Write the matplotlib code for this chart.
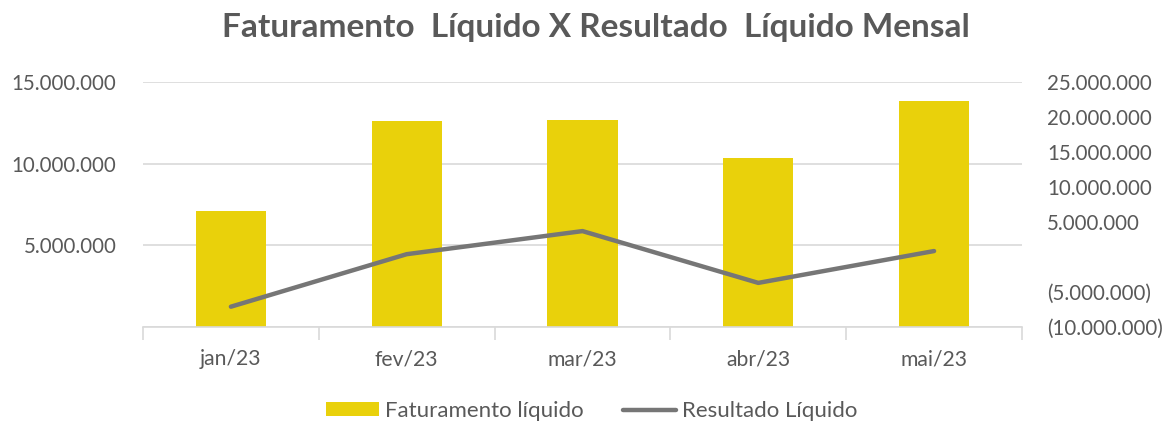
import matplotlib
matplotlib.use("Agg")
import matplotlib.pyplot as plt
from matplotlib.ticker import FuncFormatter, FixedLocator
from matplotlib.lines import Line2D
from matplotlib.patches import Patch

months = ["jan/23", "fev/23", "mar/23", "abr/23", "mai/23"]
faturamento = [7100000, 12600000, 12700000, 10350000, 13850000]
resultado = [-7100000, 400000, 3700000, -3700000, 850000]
left_ticks = [0, 5000000, 10000000, 15000000]
right_ticks = [-10000000, -5000000, 0, 5000000, 10000000, 15000000, 20000000, 25000000]

TXT = "#595959"
FONT = ["Lato", "DejaVu Sans"]
plt.rcParams["font.family"] = FONT

def fmt(v, pos=None):
    v = int(round(v))
    if v == 0:
        return ""
    s = f"{abs(v):,}".replace(",", ".")
    return f"({s})" if v < 0 else s

fig = plt.figure(figsize=(11.74, 4.25), dpi=100)
ax = fig.add_axes([0.1218, 0.2306, 0.7487, 0.5765])
ax2 = ax.twinx()

x = list(range(len(months)))
ax.bar(x, faturamento, width=0.40, color="#E9D10B", zorder=2)
ax.set_ylim(0, 15000000)
ax.set_xlim(-0.5, len(months) - 0.5)
ax.yaxis.set_major_locator(FixedLocator(left_ticks))
ax.yaxis.set_major_formatter(FuncFormatter(fmt))
ax.grid(axis="y", color="#D9D9D9", linewidth=1.2, zorder=0)
ax.set_axisbelow(True)
ax.set_xticks(x)
ax.set_xticklabels(months)
ax.set_xticks([i - 0.5 for i in range(len(months) + 1)], minor=True)
ax.tick_params(axis="x", which="major", length=0, pad=16, labelsize=15.2, colors=TXT)
ax.tick_params(axis="x", which="minor", length=9, width=1.2, color="#D9D9D9")
ax.tick_params(axis="y", length=0, pad=19, labelsize=14.8, colors=TXT)

ax2.plot(x, resultado, color="#767676", linewidth=3.2, solid_capstyle="round", zorder=3)
ax2.set_ylim(-10000000, 25000000)
ax2.yaxis.set_major_locator(FixedLocator(right_ticks))
ax2.yaxis.set_major_formatter(FuncFormatter(fmt))
ax2.tick_params(axis="y", length=0, pad=18, labelsize=14.8, colors=TXT)

for a in (ax, ax2):
    for side in ("top", "left", "right", "bottom"):
        a.spines[side].set_visible(False)
ax.spines["bottom"].set_visible(True)
ax.spines["bottom"].set_color("#D9D9D9")
ax.spines["bottom"].set_linewidth(1.2)

fig.text(0.508, 0.935, "Faturamento  Líquido X Resultado  Líquido Mensal",
         ha="center", va="center", fontsize=24, fontweight="bold", color=TXT)

handles = [Patch(facecolor="#E9D10B", edgecolor="none"),
           Line2D([0], [0], color="#767676", linewidth=3.2, solid_capstyle="round")]
fig.legend(handles, ["Faturamento líquido", "Resultado Líquido"],
           loc="center", bbox_to_anchor=(0.504, 0.033), ncol=2, frameon=False,
           fontsize=16, labelcolor=TXT, handlelength=2.35, handleheight=0.6,
           handletextpad=0.27, columnspacing=1.8)

fig.savefig("out.png", dpi=100)
